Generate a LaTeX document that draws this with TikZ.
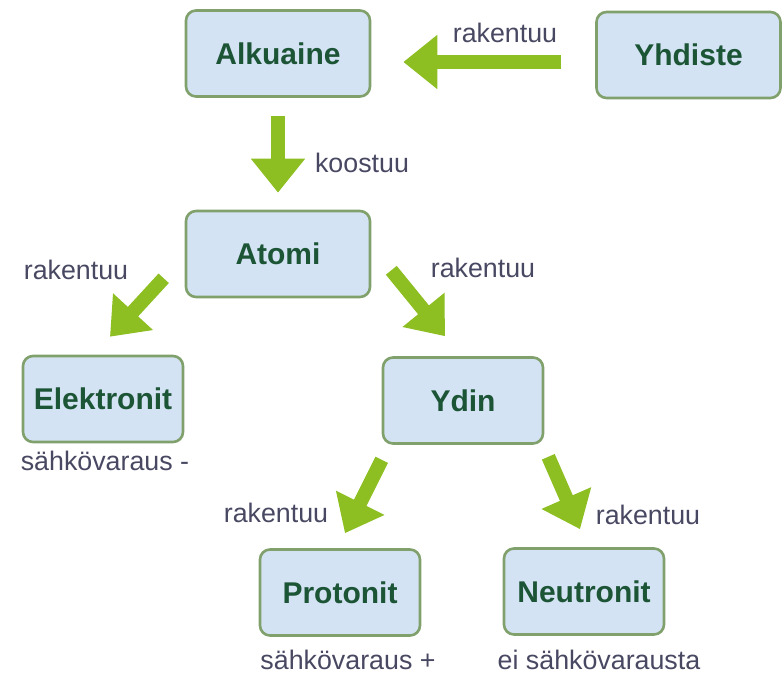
\documentclass[tikz,border=0pt]{standalone}
\usepackage{fontspec}
\setmainfont{Liberation Sans}
\usetikzlibrary{arrows.meta,calc}
\definecolor{boxfill}{RGB}{212,227,243}
\definecolor{boxline}{RGB}{128,160,108}
\definecolor{boxtext}{RGB}{28,84,54}
\definecolor{arrowgreen}{RGB}{141,190,34}
\definecolor{labeltext}{RGB}{72,72,98}
\tikzset{
  concept/.style={draw=boxline, line width=1.3pt, fill=boxfill, rounded corners=5pt,
    minimum width=80pt, minimum height=43pt, text=boxtext,
    font=\fontsize{15}{18}\selectfont\bfseries},
  wide/.style={minimum width=92pt},
  relation/.style={text=labeltext, inner sep=0pt, font=\fontsize{13.4}{16}\selectfont},
  bigarrow/.style={draw=arrowgreen, line width=7pt, -{Triangle[length=17pt,width=26pt]}}
}
\begin{document}
\begin{tikzpicture}[x=0.5pt,y=-0.5pt]
    \useasboundingbox (0,0) rectangle (784,673);
    \node[concept,wide] (alk) at (278,53.5) {Alkuaine};
    \node[concept,wide] (yhd) at (688.5,55) {Yhdiste};
    \node[concept,wide] (atom) at (278,254) {Atomi};
    \node[concept] (elek) at (103,399) {Elektronit};
    \node[concept] (ydin) at (463,400.5) {Ydin};
    \node[concept] (prot) at (340,592.5) {Protonit};
    \node[concept] (neut) at (584,591.5) {Neutronit};

    \draw[bigarrow] ($(yhd.west)+(-34,7)$) -- ($(alk.east)+(32,8.5)$);
    \draw[bigarrow] ($(alk.south)+(0,18)$) -- ($(atom.north)+(0,-17)$);
    \draw[bigarrow] ($(atom.south west)+(-21,-20)$) -- ($(elek.north)+(7,-18)$);
    \draw[bigarrow] ($(atom.south east)+(20,-28)$) -- ($(ydin.north)+(-18,-20)$);
    \draw[bigarrow] ($(ydin.south west)+(0,15)$) -- ($(prot.north)+(5,-15)$);
    \draw[bigarrow] ($(ydin.south east)+(4,12)$) -- ($(neut.north)+(-4,-18)$);

    \node[relation] (r1) at (505,33) {rakentuu};
    \node[relation] (r2) at (362,163) {koostuu};
    \node[relation] (r3) at (76,270) {rakentuu};
    \node[relation] (r4) at (483,268) {rakentuu};
    \node[relation] (r5) at (276,513) {rakentuu};
    \node[relation] (r6) at (648,515) {rakentuu};
    \node[relation] (q1) at (105,461) {sähkövaraus -};
    \node[relation] (q2) at (348,660) {sähkövaraus +};
    \node[relation] (q3) at (599,660) {ei sähkövarausta};
\end{tikzpicture}
\end{document}
